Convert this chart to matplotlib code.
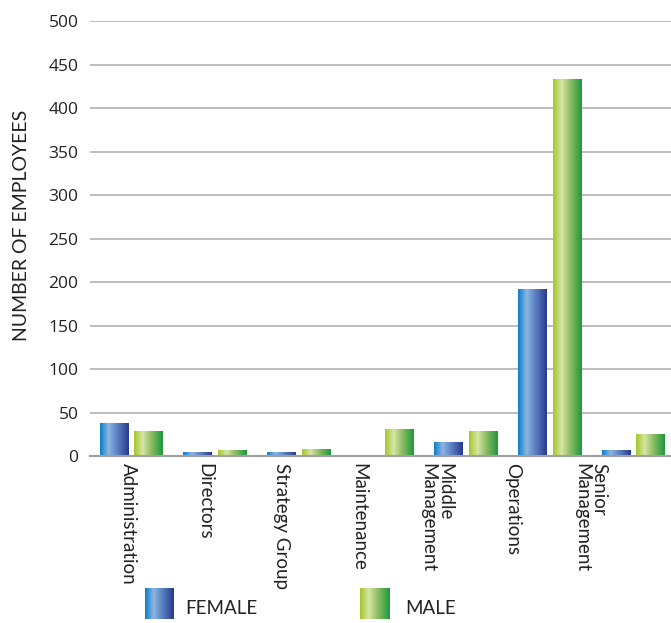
import numpy as np
import matplotlib
matplotlib.use("Agg")
import matplotlib.pyplot as plt
from matplotlib.colors import LinearSegmentedColormap

plt.rcParams['font.family'] = ['Lato', 'DejaVu Sans']

categories = ["Administration", "Directors", "Strategy Group", "Maintenance",
              "Middle\nManagement", "Operations", "Senior\nManagement"]
female = [37, 4, 4, 0, 15, 191, 6]
male = [28, 6, 7, 31, 28, 432, 25]
yticks = list(range(0, 501, 50))

female_cmap = LinearSegmentedColormap.from_list(
    "fem", [(0.0, "#0a7cc8"), (0.3, "#8cb6e2"), (0.6, "#5a80c4"), (1.0, "#283a8a")])
male_cmap = LinearSegmentedColormap.from_list(
    "male", [(0.0, "#a2c62a"), (0.3, "#d6e6a4"), (0.6, "#8cbc64"), (1.0, "#1c983c")])
grad = np.linspace(0, 1, 256).reshape(1, -1)

fig = plt.figure(figsize=(6.71, 6.23), dpi=100)
ax = fig.add_axes([0.1334, 0.2673, 0.8666, 0.699])

x = np.arange(len(categories))
bw = 0.345
off = 0.208

def gbar(xc, h, cmap):
    if h <= 0:
        return
    ax.imshow(grad, cmap=cmap, extent=(xc - bw / 2, xc + bw / 2, 0, h),
              aspect='auto', zorder=3, interpolation='bilinear')

for i in range(len(categories)):
    gbar(x[i] - off, female[i], female_cmap)
    gbar(x[i] + off, male[i], male_cmap)

ax.set_xlim(-0.5, 6.45)
ax.set_ylim(0, 500)
ax.set_yticks(yticks)
ax.set_yticklabels([str(v) for v in yticks], fontsize=12.5, color="#222222",
                   family=['Open Sans', 'DejaVu Sans'])
ax.tick_params(axis='y', length=0, pad=8)
ax.grid(axis='y', color="#b8b8b8", linewidth=1.3, zorder=0)
ax.set_axisbelow(True)
for s in ax.spines.values():
    s.set_visible(False)
ax.axhline(0, color="#a0a0a0", linewidth=1.5, zorder=4, clip_on=False)

label_pos = x * 0.92 - 0.04
ax.set_xticks(label_pos)
ax.set_xticklabels(categories, rotation=-90, fontsize=13.5, color="#222222",
                   va='top', ha='center', multialignment='left',
                   linespacing=1.0)
ax.tick_params(axis='x', length=0, pad=5)

ax.set_ylabel("NUMBER OF EMPLOYEES", fontsize=14, color="#222222")
ax.yaxis.set_label_coords(-0.103, 0.53)

# legend
lax1 = fig.add_axes([145 / 671, 1 - 619 / 623, 28 / 671, 31 / 623])
lax1.imshow(grad, cmap=female_cmap, aspect='auto', interpolation='bilinear')
lax1.axis('off')
lax2 = fig.add_axes([360 / 671, 1 - 619 / 623, 29 / 671, 31 / 623])
lax2.imshow(grad, cmap=male_cmap, aspect='auto', interpolation='bilinear')
lax2.axis('off')
fig.text(185 / 671, 1 - 609 / 623, "FEMALE", fontsize=13.5, color="#222222", va='center')
fig.text(405 / 671, 1 - 609 / 623, "MALE", fontsize=13.5, color="#222222", va='center')

fig.savefig("out.png", dpi=100)
